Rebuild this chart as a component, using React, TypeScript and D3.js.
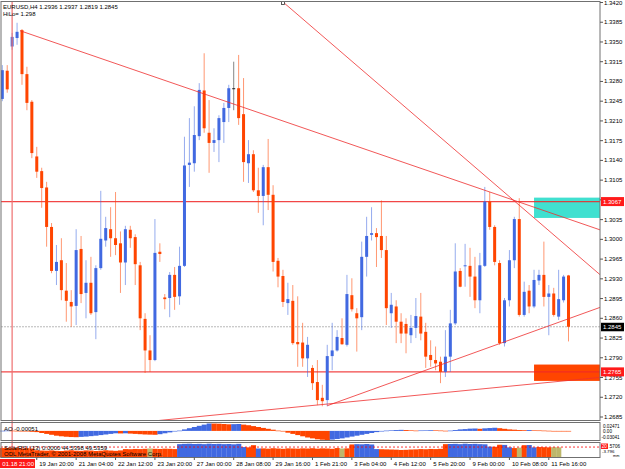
import React from 'react';
import * as d3 from 'd3';

// ---------- DATA ----------
const openP = [1.3249,1.3299,1.3342,1.3357,1.3371,1.3293,1.3244,1.3147,1.3121,1.3092,
1.3022,1.2944,1.2963,1.2909,1.2889,1.2882,1.2983,1.2905,1.2923,1.2871,
1.2949,1.2998,1.3018,1.3002,1.2993,1.2959,1.3017,1.3004,1.2954,1.2859,
1.2803,1.2786,1.2978,1.2897,1.2896,1.2937,1.2899,1.2953,1.3132,1.3135,
1.3183,1.3264,1.3189,1.3171,1.3176,1.3208,1.3233,1.3268,1.3268,1.3222,
1.3135,1.3151,1.3087,1.3077,1.3128,1.3079,1.2962,1.2935,1.2887,1.2891,
1.2818,1.2817,1.2789,1.2772,1.2747,1.2719,1.2715,1.2793,1.2803,1.2825,
1.2813,1.2901,1.2869,1.2862,1.2969,1.3008,1.3011,1.3006,1.2981,1.2869,
1.2881,1.2854,1.2850,1.2830,1.2843,1.2863,1.2836,1.2795,1.2786,1.2783,
1.2765,1.2792,1.2851,1.2944,1.2953,1.2953,1.2934,1.2892,1.2953,1.3067,
1.3022,1.2958,1.2816,1.2892,1.2963,1.3036,1.2866,1.2909,1.2881,1.2927,
1.2937,1.2898,1.2904,1.2863,1.2892,1.2936];

const highP = [1.3309,1.3309,1.3366,1.3384,1.3373,1.3306,1.3247,1.3164,1.3127,1.3102,
1.3029,1.2990,1.3002,1.2958,1.2910,1.3018,1.3006,1.2963,1.2969,1.2954,
1.3086,1.3040,1.3057,1.3084,1.3014,1.3024,1.3024,1.3009,1.2960,1.2869,
1.2830,1.3036,1.2993,1.2903,1.2942,1.2951,1.2987,1.3182,1.3215,1.3236,
1.3277,1.3330,1.3247,1.3197,1.3220,1.3242,1.3274,1.3315,1.3327,1.3286,
1.3176,1.3158,1.3127,1.3132,1.3178,1.3096,1.2967,1.2946,1.2923,1.2919,
1.2899,1.2852,1.2827,1.2777,1.2786,1.2742,1.2813,1.2852,1.2839,1.2860,
1.2937,1.2931,1.2878,1.2996,1.3040,1.3057,1.3020,1.3069,1.3006,1.2905,
1.2892,1.2869,1.2860,1.2866,1.2896,1.2905,1.2852,1.2821,1.2810,1.2792,
1.2839,1.2875,1.2993,1.2949,1.2992,1.2985,1.2969,1.2976,1.3093,1.3084,
1.3025,1.2963,1.2896,1.2981,1.3040,1.3073,1.2925,1.2919,1.2946,1.2946,
1.2996,1.2919,1.2914,1.2946,1.2937,1.2937];

const lowP = [1.3245,1.3260,1.3336,1.3345,1.3274,1.3229,1.3144,1.3109,1.3056,1.2987,
1.2940,1.2919,1.2892,1.2854,1.2845,1.2848,1.2887,1.2860,1.2866,1.2823,
1.2946,1.2987,1.2969,1.2972,1.2905,1.2919,1.2985,1.2919,1.2839,1.2763,
1.2765,1.2784,1.2960,1.2876,1.2862,1.2875,1.2884,1.2951,1.3093,1.3120,
1.3176,1.3189,1.3118,1.3155,1.3137,1.3171,1.3208,1.3229,1.3203,1.3102,
1.3100,1.3084,1.3047,1.3025,1.3052,1.2943,1.2915,1.2880,1.2866,1.2813,
1.2774,1.2774,1.2756,1.2733,1.2706,1.2704,1.2704,1.2768,1.2801,1.2813,
1.2810,1.2872,1.2801,1.2839,1.2934,1.2998,1.2951,1.2967,1.2848,1.2843,
1.2816,1.2816,1.2798,1.2816,1.2825,1.2821,1.2772,1.2774,1.2768,1.2745,
1.2756,1.2765,1.2848,1.2915,1.2916,1.2898,1.2878,1.2869,1.2951,1.3017,
1.2954,1.2813,1.2810,1.2881,1.2949,1.2863,1.2863,1.2869,1.2878,1.2919,
1.2881,1.2830,1.2863,1.2857,1.2888,1.2819];

const closeP = [1.3300,1.3266,1.3359,1.3368,1.3293,1.3242,1.3153,1.3120,1.3091,1.3022,
1.2944,1.2960,1.2910,1.2891,1.2881,1.2981,1.2903,1.2923,1.2869,1.2949,
1.3001,1.3020,1.3002,1.2990,1.2959,1.3018,1.3002,1.2956,1.2860,1.2803,
1.2786,1.2976,1.2974,1.2894,1.2937,1.2898,1.2953,1.3131,1.3136,1.3185,
1.3265,1.3197,1.3171,1.3176,1.3215,1.3233,1.3268,1.3268,1.3215,1.3137,
1.3151,1.3087,1.3077,1.3128,1.3079,1.2960,1.2934,1.2889,1.2894,1.2816,
1.2814,1.2789,1.2813,1.2745,1.2715,1.2713,1.2793,1.2803,1.2827,1.2814,
1.2903,1.2876,1.2860,1.2969,1.3006,1.3011,1.3004,1.2981,1.2878,1.2884,
1.2854,1.2833,1.2833,1.2843,1.2864,1.2833,1.2792,1.2786,1.2780,1.2765,
1.2792,1.2851,1.2943,1.2916,1.2954,1.2934,1.2892,1.2954,1.3067,1.3022,
1.2960,1.2816,1.2892,1.2963,1.3036,1.2866,1.2907,1.2881,1.2928,1.2937,
1.2898,1.2904,1.2866,1.2894,1.2934,1.2845];

const aoValues = [0.0005,0.001,0.0008,0.0003,-0.0005,-0.0015,-0.003,
-0.004,-0.007,-0.010,-0.013,-0.016,-0.018,-0.0195,-0.0205,-0.021,
-0.020,-0.019,-0.0175,-0.016,-0.014,-0.012,-0.010,-0.008,
-0.0085,-0.008,-0.009,-0.010,-0.011,-0.012,-0.0125,-0.013,
-0.011,-0.008,-0.005,-0.002,0.001,0.005,
0.009,0.013,0.017,0.021,0.0247,
0.0245,0.024,0.023,0.022,
0.0225,0.023,
0.021,0.019,0.016,0.013,0.010,0.007,0.004,0.001,-0.002,-0.006,-0.010,-0.014,-0.018,-0.022,-0.025,-0.028,-0.0295,-0.0304,
-0.029,-0.027,-0.025,-0.022,-0.019,-0.016,-0.013,-0.010,-0.007,-0.004,-0.001,
0.001,0.002,0.003,0.0035,0.003,0.002,0.001,0.0015,0.002,0.0025,0.002,0.0012,0.0005,0.001,0.003,0.005,0.006,0.0075,0.008,0.007,0.0085,0.0095,0.0105,0.009,0.007,0.005,0.004,0.003,0.0025,0.003,0.002,0.0015,0.001,0.0005,0.0,-0.0003,-0.0004,-0.00051];

const rsiValues = [65,66,64,65,63,64,62,
50,48,47,49,46,45,48,50,47,46,49,48,45,47,50,48,46,49,
58,57,59,58,60,
62,
60,59,61,60,58,
92,94,95,93,94,92,95,93,94,92,93,91,94,
72,70,
85,
62,63,61,64,62,60,63,62,61,63,62,64,61,63,62,60,
65,
62,63,
90,92,91,93,90,
58,57,56,55,54,52,53,55,56,58,57,59,58,60,
92,93,94,92,95,93,94,92,91,
75,74,
88,87,
70,
65,
68,
85,86,
70,72,71,
70,71,70];

const rsiKinds = [
'o','o','o','o','o','o','o',
'o','o','o','o','o','o','o','o','o','o','o','o','o','o','o','o','o','o',
'o','o','o','o','o',
'k',
'o','o','o','o','o',
'b','b','b','b','b','b','b','b','b','b','b','b','b','b',
'o','o',
'b',
'o','o','o','o','o','o','o','o','o','o','o','o','o','o','o','o',
'k',
'o','o',
'b','b','b','b','b',
'o','o','o','o','o','o','o','o','o','o','o','o','o','o',
'b','b','b','b','b','b','b','b','b',
'o','o',
'b','b',
'o',
'k',
'o',
'b','b',
'o','o','o',
'k','k','k'];

const priceTicks = [1.3420,1.3385,1.3350,1.3315,1.3280,1.3245,1.3210,1.3175,1.3140,1.3105,1.3070,1.3035,1.3000,1.2965,1.2930,1.2895,1.2860,1.2825,1.2790,1.2755,1.2720,1.2685];
const timeTickIdx = [7,15,23,31,39,47,55,63,71,79,87,95,103,111];
const timeTickLabels = ['19 Jan 20:00','21 Jan 04:00','22 Jan 12:00','23 Jan 20:00','27 Jan 00:00','28 Jan 08:00','29 Jan 16:00','1 Feb 21:00','3 Feb 04:00','4 Feb 12:00','5 Feb 20:00','9 Feb 00:00','10 Feb 08:00','11 Feb 16:00'];

const hLinePrices = [1.3067, 1.2765];
const bidPrice = 1.2845;
const vLineIdx = 2;
// trendline anchors: [index, price]
const trendA = [[3.6, 1.3370], [100, 1.3081]];
const trendB = [[57, 1.3421], [110, 1.3023]];
const trendC = [[66, 1.2705], [100, 1.2812]];
const trendD = [[66, 1.2708], [100, 1.2737]];
const zoneStartIdx = 108;
const cyanZone = [1.3074, 1.3038];
const orangeZone = [1.2778, 1.2749];

const BLUE = '#4169E1';
const ORANGE = '#FF4500';
const KHAKI = '#BDB76B';
const FONT = 'Liberation Sans, Arial, sans-serif';

export default function App() {
  const W = 625, H = 469;
  const left = 1, right = 600;
  const mainTop = 1.5, mainBot = 420.5;
  const aoTop = 422.5, aoBot = 440.5;
  const rsiTop = 442.5, rsiBot = 457.5;

  const x = d3.scaleLinear().domain([0, 115]).range([2.3, 568.5]);
  const y = d3.scaleLinear().domain([1.2685, 1.3420]).range([417, 2.5]);
  const yAO = d3.scaleLinear().domain([-0.03041, 0.02471]).range([aoBot - 0.5, aoTop + 1]);
  const yR = d3.scaleLinear().domain([0, 100]).range([rsiBot, rsiTop + 0.5]);
  const step = x(1) - x(0);

  const idxL = x.invert(left), idxR = x.invert(right);
  const lineEnds = (a: number[][], fromAnchor: boolean) => {
    const slope = (a[1][1] - a[0][1]) / (a[1][0] - a[0][0]);
    const i0 = fromAnchor ? a[0][0] : idxL;
    const p0 = a[0][1] + slope * (i0 - a[0][0]);
    const p1 = a[0][1] + slope * (idxR - a[0][0]);
    return { x1: x(i0), y1: y(p0), x2: x(idxR), y2: y(p1) };
  };
  const lines = [lineEnds(trendA, true), lineEnds(trendB, false), lineEnds(trendC, true), lineEnds(trendD, false)];

  const candles = openP.map((o, i) => ({ o, h: highP[i], l: lowP[i], c: closeP[i], i }));
  const last = candles[candles.length - 1];
  const boxPrices = [...hLinePrices, bidPrice];
  const visibleTicks = priceTicks.filter(p => boxPrices.every(b => Math.abs(y(p) - y(b)) >= 5));

  return (
    <div style={{ position: 'absolute', left: 0, top: 0, width: W, height: H, background: '#fff' }}>
      <svg width={W} height={H} style={{ display: 'block' }} fontFamily={FONT}>
        <defs>
          <clipPath id="mainClip"><rect x={left} y={mainTop} width={right - left} height={mainBot - mainTop} /></clipPath>
        </defs>
        <rect x={0} y={0} width={W} height={H} fill="#fff" />

        <g clipPath="url(#mainClip)">
          <rect x={x(zoneStartIdx)} y={y(cyanZone[0])} width={right - x(zoneStartIdx)} height={y(cyanZone[1]) - y(cyanZone[0])} fill="#40E0D0" />
          <rect x={x(zoneStartIdx)} y={y(orangeZone[0])} width={right - x(zoneStartIdx)} height={y(orangeZone[1]) - y(orangeZone[0])} fill={ORANGE} />
          <line x1={left} x2={right} y1={y(bidPrice)} y2={y(bidPrice)} stroke="#b8b8b8" strokeDasharray="2,1" strokeWidth={1} />
          {hLinePrices.map((p, k) => (
            <line key={k} x1={left} x2={right} y1={y(p)} y2={y(p)} stroke="#f02828" strokeWidth={1.3} opacity={0.85} />
          ))}
          {candles.map(d => {
            const col = d.c > d.o ? BLUE : d.c < d.o ? ORANGE : '#222';
            const cx = x(d.i);
            const top = y(Math.max(d.o, d.c)), bot = y(Math.min(d.o, d.c));
            return (
              <g key={d.i}>
                <line x1={cx} x2={cx} y1={y(d.h)} y2={y(d.l)} stroke={col} strokeWidth={1} opacity={0.55} />
                <rect x={cx - 1.5} y={top} width={3} height={Math.max(1, bot - top)} fill={col} />
              </g>
            );
          })}
          {lines.map((l, k) => (
            <line key={k} {...l} stroke="#f03030" strokeWidth={1} opacity={0.8} />
          ))}
        </g>
        <rect x={x(trendB[0][0]) - 1.5} y={y(trendB[0][1]) - 0.5} width={3} height={3} fill="#fff" stroke="#333" strokeWidth={0.8} />

        <line x1={x(vLineIdx)} x2={x(vLineIdx)} y1={mainTop} y2={rsiBot} stroke="#f07070" strokeWidth={1.5} opacity={0.8} />

        {/* AO panel */}
        {aoValues.map((v, i) => {
          const prev = i > 0 ? aoValues[i - 1] : v;
          const col = v >= prev ? BLUE : ORANGE;
          const y0 = yAO(0), y1 = yAO(v);
          return <rect key={i} x={x(i) - step / 2} y={Math.min(y0, y1)} width={step + 0.2} height={Math.max(0.6, Math.abs(y1 - y0))} fill={col} />;
        })}
        <text x={4} y={431} fontSize={6} fill="#000">AO -0.00051</text>

        {/* RSI panel */}
        {rsiValues.map((v, i) => {
          const col = rsiKinds[i] === 'b' ? BLUE : rsiKinds[i] === 'k' ? KHAKI : ORANGE;
          return <rect key={i} x={x(i) - step / 2} y={yR(v)} width={step + 0.2} height={rsiBot - yR(v)} fill={col} />;
        })}
        <line x1={left} x2={right} y1={yR(72)} y2={yR(72)} stroke="#ff0000" strokeDasharray="2,2" strokeWidth={0.8} />
        <text x={4} y={449.5} fontSize={6} fill="#000">SolarRSI (13) 0.0000 44.5398 49.5359</text>
        <text x={4} y={456} fontSize={6} fill="#000">ODL MetaTrader, © 2001-2008 MetaQuotes Software Corp.</text>

        {/* frames */}
        <rect x={left} y={mainTop} width={right - left} height={mainBot - mainTop} fill="none" stroke="#707070" strokeWidth={1} />
        <rect x={left} y={aoTop} width={right - left} height={aoBot - aoTop} fill="none" stroke="#707070" strokeWidth={1} />
        <rect x={left} y={rsiTop} width={right - left} height={rsiBot - rsiTop} fill="none" stroke="#707070" strokeWidth={1} />

        {/* header */}
        <text x={3} y={8.5} fontSize={6} fill="#000">{`EURUSD,H4  ${last.o.toFixed(4)} ${last.h.toFixed(4)} ${last.l.toFixed(4)} ${last.c.toFixed(4)}`}</text>
        <text x={3} y={16} fontSize={6} fill="#000">HiLo= 1.298</text>

        {/* price axis */}
        {priceTicks.map((p, k) => (
          <line key={k} x1={right} x2={right + 3} y1={y(p)} y2={y(p)} stroke="#555" strokeWidth={1} />
        ))}
        {visibleTicks.map((p, k) => (
          <text key={k} x={604} y={y(p) + 2} fontSize={6} fill="#000">{p.toFixed(4)}</text>
        ))}
        {hLinePrices.map((p, k) => (
          <g key={k}>
            <rect x={601} y={y(p) - 4.5} width={23} height={9} fill="#ff1a1a" />
            <text x={603} y={y(p) + 2.2} fontSize={6} fill="#fff">{p.toFixed(4)}</text>
          </g>
        ))}
        <rect x={601} y={y(bidPrice) - 4} width={23} height={8.5} fill="#000" />
        <text x={603} y={y(bidPrice) + 2.2} fontSize={6} fill="#fff">{bidPrice.toFixed(4)}</text>

        {/* AO axis labels */}
        <text x={603} y={427.5} fontSize={4.6} fill="#000">0.02471</text>
        <text x={603} y={432.6} fontSize={4.6} fill="#000">0.00</text>
        <text x={601.5} y={438.5} fontSize={4.6} fill="#000">-0.03041</text>
        {/* RSI axis labels */}
        <rect x={601} y={443.5} width={7} height={5.5} fill="#ff1a1a" />
        <text x={601.8} y={447.8} fontSize={4.6} fill="#fff">20</text>
        <text x={608.5} y={447.8} fontSize={4.6} fill="#000">.5706</text>
        <text x={602} y={453} fontSize={4.4} fill="#000">-3.796</text>
        <text x={613} y={457.3} fontSize={3.8} fill="#000">mm</text>

        {/* time axis */}
        {timeTickIdx.map((ti, k) => (
          <g key={k}>
            <line x1={x(ti)} x2={x(ti)} y1={rsiBot} y2={rsiBot + 2.5} stroke="#555" strokeWidth={1} />
            <text x={x(ti) + 2.5} y={466} fontSize={6} fill="#000">{timeTickLabels[k]}</text>
          </g>
        ))}
        <rect x={0} y={459} width={35} height={9} fill="#ff1a1a" />
        <text x={34} y={466} fontSize={6} fill="#fff" textAnchor="end">01.18 21:00</text>
      </svg>
    </div>
  );
}
